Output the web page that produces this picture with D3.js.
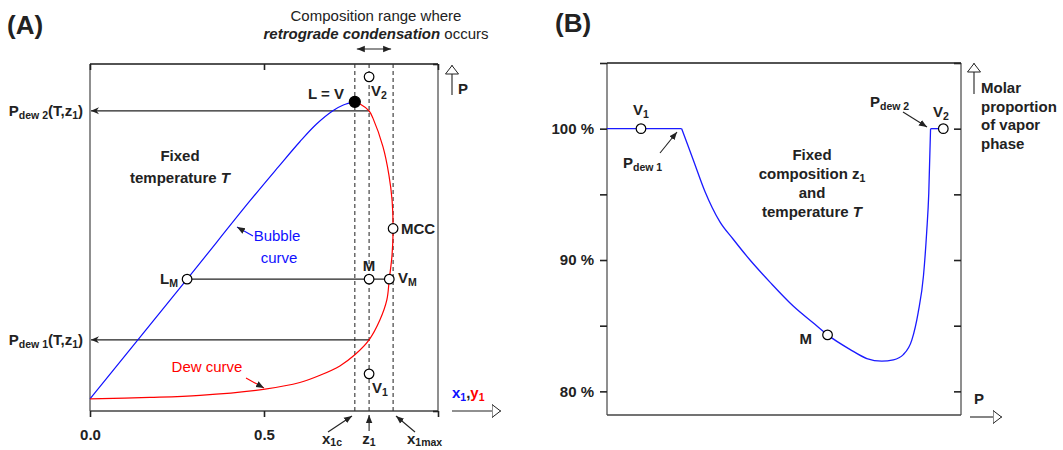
<!DOCTYPE html>
<html><head><meta charset="utf-8">
<script src="https://cdn.jsdelivr.net/npm/d3@7"></script>
<style>body{margin:0;background:#fff}svg{display:block;font-family:"Liberation Sans",Arial,sans-serif}</style>
</head><body><div id="chart"></div>
<script>
// (A) isothermal P–x diagram, pressure in arbitrary units
const bubbleX = [0, 0.279, 0.46, 0.54, 0.603, 0.651, 0.699, 0.728, 0.761];
const bubbleP = [3.5, 38.0, 60.6, 70.2, 77.6, 82.7, 86.6, 88.2, 89.1];
const dewX = [0, 0.172, 0.316, 0.503, 0.603, 0.661, 0.718, 0.761, 0.802, 0.833, 0.853, 0.86, 0.868, 0.871, 0.868, 0.859, 0.842, 0.813, 0.802, 0.776, 0.761];
const dewP = [3.5, 3.9, 4.5, 6.3, 8.2, 10.3, 13.0, 16.2, 20.5, 26.2, 32.0, 38.0, 45.0, 52.6, 60.8, 68.0, 76.1, 84.4, 86.5, 88.5, 89.1];
const compNames = ["x1c", "z1", "x1max"];
const compValues = [0.761, 0.802, 0.871];
const stateNames = ["L = V", "V2", "MCC", "M", "VM", "LM", "V1"];
const stateX = [0.761, 0.802, 0.871, 0.802, 0.86, 0.279, 0.802];
const stateP = [89.1, 96.3, 52.6, 38.0, 38.0, 38.0, 10.7];
const pdewP = [20.5, 86.5];
const xTicks = [0, 0.5, 1];
const xTickLabels = ["0.0", "0.5", ""];

// (B) vapor fraction along the isotherm at z1
const vaporP = [0, 21.1, 24.4, 27.7, 29.7, 31.9, 35.6, 40.4, 46.1, 52.6, 58.3, 62.3, 68.6, 73.4, 77.6, 80.9, 83.7, 86.1, 87.9, 89.4, 90.3, 90.9, 91.4, 95.0];
const vaporPct = [100, 100, 97.6, 95.2, 94.0, 92.9, 91.6, 90.0, 88.3, 86.5, 85.2, 84.3, 83.2, 82.5, 82.3, 82.4, 82.8, 83.9, 86.0, 88.8, 92.1, 95.1, 100, 100];
const vaporPointNames = ["V1", "M", "V2"];
const vaporPointP = [9.6, 62.3, 95.0];
const vaporPointPct = [100, 84.3, 100];
const pctTicks = [80, 85, 90, 95, 100, 105];
const pctLabels = ["80 %", "", "90 %", "", "100 %", ""];

const W = 1063, H = 450, ink = "#222";
const svg = d3.select("#chart").append("svg").attr("width", W).attr("height", H);
const defs = svg.append("defs");
const marker = (id, d, fill, stroke, len) => defs.append("marker").attr("id", id)
  .attr("markerUnits", "userSpaceOnUse").attr("viewBox", `0 -8 ${len} 16`).attr("refX", len).attr("refY", 0)
  .attr("markerWidth", len).attr("markerHeight", 16).attr("orient", "auto-start-reverse")
  .append("path").attr("d", d).attr("fill", fill).attr("stroke", stroke).attr("stroke-width", 1);
marker("head", "M0,-3.2L8,0L0,3.2Z", ink, "none", 8);
marker("chev", "M0,-3.5L8,0L0,3.5L2.5,0Z", ink, "none", 8);
marker("tri", "M0.5,-6.5L9,0L0.5,6.5Z", "#fff", ink, 9.5);

const arrow = (x1, y1, x2, y2, m, both) => {
  const l = svg.append("line").attr("x1", x1).attr("y1", y1).attr("x2", x2).attr("y2", y2)
    .attr("stroke", ink).attr("stroke-width", 1.1).attr("marker-end", `url(#${m})`);
  if (both) l.attr("marker-start", `url(#${m})`);
  return l;
};

function rich(x, y, parts, o = {}) {
  const size = o.size || 15, sub = o.subDy ?? 3;
  const t = svg.append("text").attr("x", x).attr("y", y).attr("font-size", size)
    .attr("font-weight", o.weight || "bold").attr("fill", o.fill || ink).attr("text-anchor", o.anchor || "start");
  let shifted = 0;
  for (const p of parts) {
    const [str, kind = "", color] = Array.isArray(p) ? p : [p];
    const s = t.append("tspan").text(str);
    const dy = kind.includes("s") ? sub : 0;
    if (dy !== shifted) { s.attr("dy", dy - shifted); shifted = dy; }
    if (kind.includes("s")) s.attr("font-size", size * 0.7);
    if (kind.includes("i")) s.attr("font-style", "italic");
    if (kind.includes("r")) s.attr("font-weight", "normal");
    if (kind.includes("b")) s.attr("font-weight", "bold");
    if (color) s.attr("fill", color);
  }
  return t;
}

function frame(x0, x1, y0, y1) {
  const g = svg.append("g").attr("fill", "none").attr("stroke-width", 1.5);
  g.append("line").attr("x1", x0).attr("x2", x0).attr("y1", y0).attr("y2", y1).attr("stroke", "#6a6a6a");
  g.append("line").attr("x1", x1).attr("x2", x1).attr("y1", y0).attr("y2", y1).attr("stroke", "#6a6a6a");
  g.append("line").attr("x1", x0).attr("x2", x1).attr("y1", y0).attr("y2", y0).attr("stroke", "#1a1a1a");
  g.append("line").attr("x1", x0).attr("x2", x1).attr("y1", y1).attr("y2", y1).attr("stroke", "#444");
}
const styleAxis = (g) => {
  g.select(".domain").remove();
  g.selectAll(".tick line").attr("stroke", ink).attr("stroke-width", 1.6);
  g.selectAll(".tick text").attr("fill", ink).attr("font-size", 15).attr("font-weight", "bold")
    .attr("font-family", "Liberation Sans, Arial, sans-serif");
};

// ---------- panel A ----------
const xA = d3.scaleLinear().domain([0, 1]).range([90, 438]);
const yA = d3.scaleLinear().domain([0, 100]).range([411, 64]);
frame(90, 438, 64, 411);
svg.append("g").attr("transform", "translate(0,411)")
  .call(d3.axisBottom(xA).tickValues(xTicks).tickSize(6).tickPadding(12).tickFormat((d, i) => xTickLabels[i])).call(styleAxis);
svg.append("g").attr("transform", "translate(0,64)")
  .call(d3.axisBottom(xA).tickValues(xTicks).tickSize(6).tickFormat("")).call(styleAxis);
svg.append("g").attr("transform", "translate(438,0)")
  .call(d3.axisLeft(yA).tickValues([0, 100]).tickSize(5).tickFormat("")).call(styleAxis);

svg.append("g").selectAll("line").data(compValues).join("line")
  .attr("x1", (d) => xA(d)).attr("x2", (d) => xA(d)).attr("y1", 64).attr("y2", 411)
  .attr("stroke", "#333").attr("stroke-width", 1.1).attr("stroke-dasharray", "4,3");

const z1 = compValues[1];
pdewP.forEach((p) => arrow(xA(z1), yA(p), xA(0) + 1, yA(p), "chev"));
svg.append("line").attr("x1", xA(stateX[5])).attr("x2", xA(stateX[4])).attr("y1", yA(38)).attr("y2", yA(38))
  .attr("stroke", ink).attr("stroke-width", 1.1);

const curveA = d3.line().x((d) => xA(d[0])).y((d) => yA(d[1])).curve(d3.curveCatmullRom.alpha(0.5));
svg.append("path").attr("d", curveA(d3.zip(bubbleX, bubbleP))).attr("fill", "none").attr("stroke", "#1010ff").attr("stroke-width", 1.2);
svg.append("path").attr("d", curveA(d3.zip(dewX, dewP))).attr("fill", "none").attr("stroke", "#ff0000").attr("stroke-width", 1.2);

svg.append("g").selectAll("circle").data(d3.range(stateNames.length)).join("circle")
  .attr("cx", (i) => xA(stateX[i])).attr("cy", (i) => yA(stateP[i])).attr("r", (i) => i === 0 ? 5.5 : 4.8)
  .attr("fill", (i) => i === 0 ? "#000" : "#fff").attr("stroke", "#000").attr("stroke-width", 1.2);

// labels A
rich(7, 34, ["(A)"], { size: 26 });
rich(376, 21, ["Composition range where"], { anchor: "middle", weight: "normal" });
rich(376, 39, [["retrograde condensation ", "bi"], ["occurs", "r"]], { anchor: "middle", weight: "normal" });
arrow(xA(compValues[0]) + 2, 49, xA(compValues[2]) - 2, 49, "head", true);
rich(83, 116, ["P", ["dew 2", "s"], "(T,z", ["1", "s"], ")"], { anchor: "end" });
rich(83, 345, ["P", ["dew 1", "s"], "(T,z", ["1", "s"], ")"], { anchor: "end" });
rich(180, 161, ["Fixed"], { anchor: "middle" });
rich(180, 183, ["temperature ", ["T", "i"]], { anchor: "middle" });
rich(277, 241, ["Bubble"], { anchor: "middle", weight: "normal", fill: "#1010ff" });
rich(279, 263, ["curve"], { anchor: "middle", weight: "normal", fill: "#1010ff" });
arrow(253, 236, 237, 227, "head").attr("stroke", "#1010ff");
rich(207, 372, ["Dew curve"], { anchor: "middle", weight: "normal", fill: "#ff0000" });
arrow(246, 378, 264, 388, "head").attr("stroke", "#ff0000");
rich(308, 99, ["L = V"]);
rich(371, 96, ["V", ["2", "s"]]);
rich(401, 234, ["MCC"]);
rich(369, 271, ["M"], { anchor: "middle" });
rich(398, 283, ["V", ["M", "s"]]);
rich(160, 284, ["L", ["M", "s"]]);
rich(372, 393, ["V", ["1", "s"]]);
arrow(452, 95, 452, 65, "tri");
rich(458, 94, ["P"]);
arrow(452, 411, 501, 411, "tri");
rich(452, 398, [["x", "", "#1010ff"], ["1", "s", "#1010ff"], ",", ["y", "", "#ff0000"], ["1", "s", "#ff0000"]]);
arrow(328, 432, 352, 416, "head");
arrow(xA(z1), 431, xA(z1), 415, "head");
arrow(415, 432, 396, 416, "head");
rich(322, 444, ["x", ["1c", "s"]], { subDy: 1.5 });
rich(369, 444, ["z", ["1", "s"]], { anchor: "middle", subDy: 1.5 });
rich(407, 444, ["x", ["1max", "s"]], { subDy: 1.5 });

// ---------- panel B ----------
const xB = d3.scaleLinear().domain([0, 100]).range([607, 961]);
const yB = d3.scaleLinear().domain([78.2, 105]).range([415, 63]);
frame(607, 961, 63, 415);
svg.append("g").attr("transform", "translate(607,0)")
  .call(d3.axisLeft(yB).tickValues(pctTicks).tickSize(7).tickPadding(6).tickFormat((d, i) => pctLabels[i])).call(styleAxis);
svg.append("g").attr("transform", "translate(961,0)")
  .call(d3.axisLeft(yB).tickValues(pctTicks).tickSize(7).tickFormat("")).call(styleAxis);

const vapor = d3.zip(vaporP, vaporPct);
const n = vapor.length;
const lineB = d3.line().x((d) => xB(d[0])).y((d) => yB(d[1]));
const gB = svg.append("g").attr("fill", "none").attr("stroke", "#1a1aff").attr("stroke-width", 1.3);
gB.append("path").attr("d", lineB(vapor.slice(0, 2)));
gB.append("path").attr("d", lineB.curve(d3.curveMonotoneX)(vapor.slice(1, n - 1)));
gB.append("path").attr("d", lineB.curve(d3.curveLinear)(vapor.slice(n - 2)));
svg.append("g").selectAll("circle").data(d3.range(vaporPointNames.length)).join("circle")
  .attr("cx", (i) => xB(vaporPointP[i])).attr("cy", (i) => yB(vaporPointPct[i])).attr("r", 4.8)
  .attr("fill", "#fff").attr("stroke", "#000").attr("stroke-width", 1.2);

rich(555, 32, ["(B)"], { size: 26 });
rich(633, 115, ["V", ["1", "s"]]);
rich(623, 168, ["P", ["dew 1", "s"]]);
arrow(660, 153, 677, 132, "head");
rich(870, 107, ["P", ["dew 2", "s"]]);
arrow(903, 112, 927, 127, "head");
rich(933, 117, ["V", ["2", "s"]]);
rich(812, 344, ["M"], { anchor: "end" });
rich(812, 160, ["Fixed"], { anchor: "middle" });
rich(812, 179, ["composition z", ["1", "s"]], { anchor: "middle" });
rich(812, 198, ["and"], { anchor: "middle" });
rich(812, 217, ["temperature ", ["T", "i"]], { anchor: "middle" });
arrow(974, 94, 974, 63, "tri");
["Molar", "proportion", "of vapor", "phase"].forEach((s, i) => rich(981, 93 + i * 18.5, [s]));
arrow(970, 417, 1002, 417, "tri");
rich(974, 404, ["P"]);
</script></body></html>
